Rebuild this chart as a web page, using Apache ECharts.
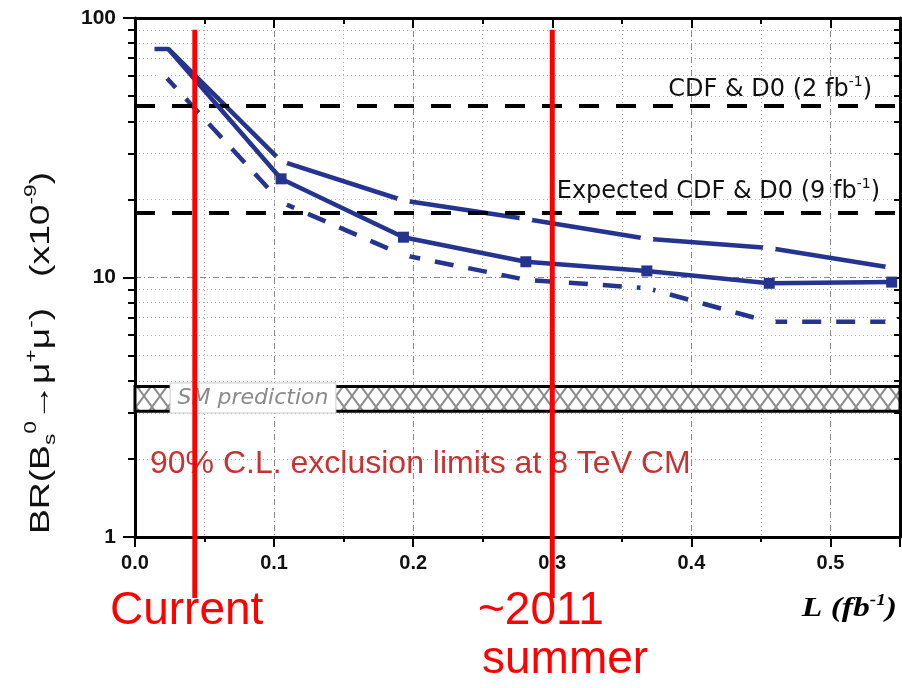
<!DOCTYPE html>
<html><head><meta charset="utf-8">
<script src="https://cdn.jsdelivr.net/npm/echarts@6/dist/echarts.min.js"></script>
<style>html,body{margin:0;padding:0;background:#fff}#c{width:902px;height:688px}</style>
</head><body><div id="c"></div>
<script>
// ---- data ----
const middleX = [0.014, 0.024, 0.105, 0.193, 0.281, 0.368, 0.456, 0.544];
const middleLimit = [76, 76, 24, 14.3, 11.5, 10.6, 9.5, 9.6];
const upperX = [0.024, 0.105, 0.193, 0.281, 0.368, 0.456, 0.544];
const upperLimit = [76, 28.1, 19.8, 16.8, 14.1, 13.0, 10.9];
const lowerX = [0.02, 0.105, 0.193, 0.281, 0.368, 0.456, 0.544];
const lowerLimit = [61, 19.5, 12.2, 9.8, 9.1, 6.75, 6.75];
const cdfLimits = [46, 17.7];            // CDF & D0 (2 fb-1), expected (9 fb-1)
const smBand = [3.05, 3.8];              // SM prediction band
const milestoneX = [0.043, 0.30];        // Current, ~2011 summer
const milestoneTop = 90;
const xTickLabels = ['0.0', '0.1', '0.2', '0.3', '0.4', '0.5'];
const yTickLabels = {1: '1', 10: '10', 100: '100'};

const NAVY = '#25358f';
const chart = echarts.init(document.getElementById('c'), null, {renderer: 'canvas'});

// hatch pattern
const cv = document.createElement('canvas');
cv.width = 16; cv.height = 22;
const cx = cv.getContext('2d');
cx.fillStyle = '#fff'; cx.fillRect(0, 0, 16, 22);
cx.strokeStyle = '#8c8c8c'; cx.lineWidth = 2;
cx.beginPath(); cx.moveTo(0, 0); cx.lineTo(16, 22); cx.moveTo(16, 0); cx.lineTo(0, 22); cx.stroke();

const zip = (xs, ys, sym) => xs.map((x, i) => {
  const o = {value: [x, ys[i]]};
  if (sym) { const s = sym(i); if (s) o.symbol = s; }
  return o;
});

const xLabelFmt = v => {
  const i = Math.round(v * 10);
  return Math.abs(v * 10 - i) < 1e-6 && xTickLabels[i] ? xTickLabels[i] : '';
};

const axisLbl = {fontFamily: 'Liberation Sans', fontWeight: 'bold', color: '#111'};

chart.setOption({
  animation: false,
  grid: {left: 135, top: 18, right: 2, bottom: 151, containLabel: false},
  xAxis: [{
    type: 'value', min: 0, max: 0.55, interval: 0.1, position: 'bottom',
    axisLine: {show: true, onZero: false, lineStyle: {color: '#000', width: 3}},
    axisTick: {show: true, length: 10, lineStyle: {color: '#000', width: 2}},
    minorTick: {show: true, splitNumber: 2, length: 5, lineStyle: {color: '#000', width: 2}},
    axisLabel: Object.assign({margin: 16, fontSize: 20, formatter: xLabelFmt, showMaxLabel: false}, axisLbl),
    splitLine: {show: true, lineStyle: {color: '#8a8a8a', width: 1, type: [6, 3, 1, 3]}},
    minorSplitLine: {show: true, lineStyle: {color: '#b0b0b0', width: 1, type: [1, 3]}}
  }, {
    type: 'value', min: 0, max: 0.55, interval: 0.1, position: 'top',
    axisLine: {show: true, onZero: false, lineStyle: {color: '#000', width: 3}},
    axisTick: {show: true, inside: true, length: 10, lineStyle: {color: '#000', width: 2}},
    minorTick: {show: true, splitNumber: 2, length: 6, lineStyle: {color: '#000', width: 2}},
    axisLabel: {show: false}, splitLine: {show: false}
  }],
  yAxis: [{
    type: 'log', logBase: 10, min: 1, max: 100, position: 'left',
    axisLine: {show: true, onZero: false, lineStyle: {color: '#000', width: 3}},
    axisTick: {show: true, length: 12, lineStyle: {color: '#000', width: 2}},
    minorTick: {show: true, splitNumber: 9, length: 7, lineStyle: {color: '#000', width: 2}},
    axisLabel: Object.assign({margin: 19, fontSize: 21, formatter: v => yTickLabels[Math.round(v)] || ''}, axisLbl),
    splitLine: {show: true, lineStyle: {color: '#8a8a8a', width: 1, type: [6, 3, 1, 3]}},
    minorSplitLine: {show: true, lineStyle: {color: '#b0b0b0', width: 1, type: [1, 3]}}
  }, {
    type: 'log', logBase: 10, min: 1, max: 100, position: 'right',
    axisLine: {show: true, onZero: false, lineStyle: {color: '#000', width: 3}},
    axisTick: {show: true, inside: true, length: 10, lineStyle: {color: '#000', width: 2}},
    minorTick: {show: true, splitNumber: 9, length: 6, lineStyle: {color: '#000', width: 2}},
    axisLabel: {show: false}, splitLine: {show: false}
  }],
  series: [{
    name: 'refs', type: 'line', data: [], z: 1, silent: true,
    markArea: {
      silent: true,
      itemStyle: {color: {image: cv, repeat: 'repeat'}, borderColor: '#000', borderWidth: 3},
      data: [[{yAxis: smBand[0]}, {yAxis: smBand[1]}]]
    },
    markLine: {
      silent: true, symbol: ['none', 'none'], label: {show: false},
      lineStyle: {color: '#000', width: 4, type: [20, 17]},
      data: cdfLimits.map(v => ({yAxis: v}))
    }
  }, {
    name: 'upper', type: 'line', z: 3, silent: true,
    data: zip(upperX, upperLimit, i => i === 0 ? 'none' : null),
    symbol: 'circle', symbolSize: 13,
    itemStyle: {color: '#fff', borderWidth: 0},
    lineStyle: {color: NAVY, width: 4.5}
  }, {
    name: 'lower', type: 'line', z: 3, silent: true,
    data: zip(lowerX, lowerLimit),
    symbol: 'circle', symbolSize: 13,
    itemStyle: {color: '#fff', borderWidth: 0},
    lineStyle: {color: NAVY, width: 4.5, type: [19, 15]}
  }, {
    name: 'middle', type: 'line', z: 5, silent: true,
    data: zip(middleX, middleLimit, i => i < 2 ? 'none' : null),
    symbol: 'rect', symbolSize: 11,
    itemStyle: {color: NAVY},
    lineStyle: {color: NAVY, width: 4.5}
  }]
});

// ---- overlays ----
const g = [];
milestoneX.forEach(x => {
  const top = chart.convertToPixel({seriesIndex: 1}, [x, milestoneTop]);
  g.push({type: 'line', z: 100, silent: true,
    shape: {x1: top[0], y1: top[1], x2: top[0], y2: 598},
    style: {stroke: '#ff0000', lineWidth: 5}});
});

// Y axis title (rotated)
g.push({type: 'text', z: 100, silent: true, x: 41, y: 353, rotation: Math.PI / 2, scaleX: 1.33,
  style: {
    text: '{n|BR(B}{sub|s}{sup|0}{n|→μ}{sup|+}{n|μ}{sup|-}{n|)   (x10}{sup|-9}{n|)}',
    align: 'center', verticalAlign: 'middle',
    rich: {
      n: {fontSize: 28, fontFamily: 'Liberation Sans', fill: '#111', lineHeight: 36, verticalAlign: 'middle'},
      sup: {fontSize: 17, fontFamily: 'Liberation Sans', fill: '#111', lineHeight: 18, verticalAlign: 'top'},
      sub: {fontSize: 17, fontFamily: 'Liberation Sans', fill: '#111', lineHeight: 18, verticalAlign: 'bottom'}
    }
  }});

// X axis title
g.push({type: 'text', z: 100, silent: true, x: 897, y: 609, scaleX: 1.2,
  style: {
    text: '{n|L (fb}{sup|-1}{n|)}', align: 'right', verticalAlign: 'middle',
    rich: {
      n: {fontSize: 28, fontFamily: 'Liberation Serif', fontWeight: 'bold', fontStyle: 'italic', fill: '#000', lineHeight: 32},
      sup: {fontSize: 16, fontFamily: 'Liberation Serif', fontWeight: 'bold', fontStyle: 'italic', fill: '#000', lineHeight: 18, verticalAlign: 'top'}
    }
  }});

// CDF labels
const cdfRich = {
  n: {fontSize: 24, fontFamily: 'DejaVu Sans', fill: '#111', lineHeight: 30},
  sup: {fontSize: 14, fontFamily: 'DejaVu Sans', fill: '#111', lineHeight: 18, verticalAlign: 'top'}
};
g.push({type: 'text', z: 50, silent: true, x: 872, y: 90,
  style: {text: '{n|CDF & D0 (2 fb}{sup|-1}{n|)}', align: 'right', verticalAlign: 'middle', rich: cdfRich}});
g.push({type: 'text', z: 50, silent: true, x: 880, y: 192,
  style: {text: '{n|Expected CDF & D0 (9 fb}{sup|-1}{n|)}', align: 'right', verticalAlign: 'middle', rich: cdfRich}});

// SM prediction label
g.push({type: 'text', z: 60, silent: true, x: 253, y: 398,
  style: {text: 'SM prediction', align: 'center', verticalAlign: 'middle',
    fontSize: 22, fontFamily: 'DejaVu Sans', fontStyle: 'italic', fill: '#8a8a8a',
    backgroundColor: '#fff', borderColor: '#cccccc', borderWidth: 1, padding: [4, 7, 3, 7]}});

// exclusion text
g.push({type: 'text', z: 60, silent: true, x: 150, y: 464,
  style: {text: '90% C.L. exclusion limits at 8 TeV CM', align: 'left', verticalAlign: 'middle',
    fontSize: 32, fontFamily: 'Liberation Sans', fill: '#c83232'}});

// milestone labels
const redBig = {fontSize: 46, fontFamily: 'Liberation Sans', fill: '#ff0000'};
g.push({type: 'text', z: 60, silent: true, x: 110, y: 611,
  style: Object.assign({text: 'Current', align: 'left', verticalAlign: 'middle'}, redBig)});
g.push({type: 'text', z: 60, silent: true, x: 478, y: 611,
  style: Object.assign({text: '~2011', align: 'left', verticalAlign: 'middle'}, redBig)});
g.push({type: 'text', z: 60, silent: true, x: 482, y: 660,
  style: Object.assign({text: 'summer', align: 'left', verticalAlign: 'middle'}, redBig)});

chart.setOption({graphic: g});
</script>
</body></html>
